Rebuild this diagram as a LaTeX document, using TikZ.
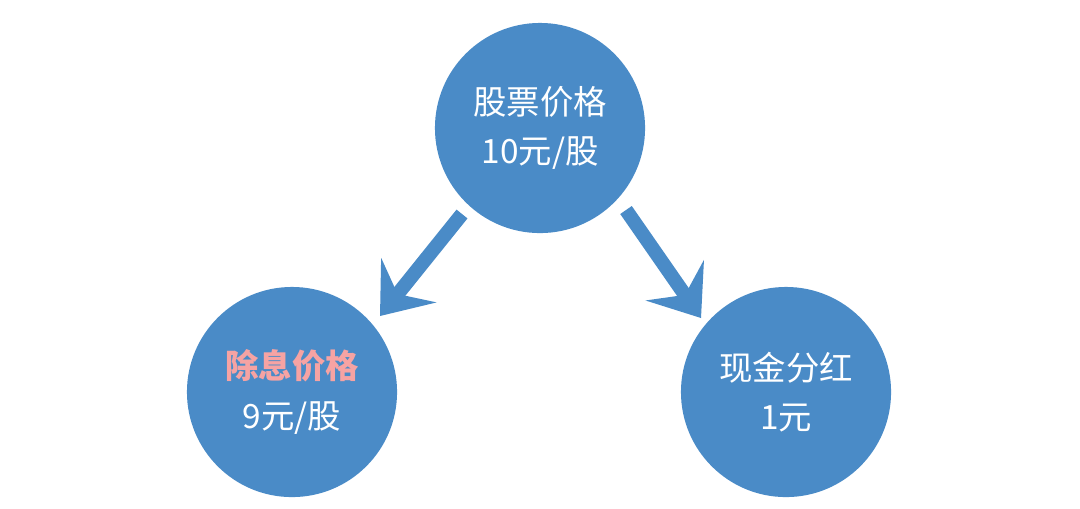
\documentclass[tikz,border=0pt]{standalone}
\usepackage{fontspec}
\newfontfamily\cjk{Noto Sans CJK SC}
\usetikzlibrary{arrows.meta}
\definecolor{ballblue}{HTML}{4A8BC7}
\definecolor{pinktext}{HTML}{F6A3A3}
\tikzset{
    ball/.style={circle, fill=ballblue, minimum size=2.1cm, inner sep=0pt,
        text=white, align=center, font=\cjk\fontsize{9.5}{14}\selectfont},
    flow/.style={ballblue, line width=4pt,
        -{Stealth[length=13pt, width=20pt, inset=5pt]}}
}
\begin{document}
\begin{tikzpicture}[x=0.01cm, y=-0.01cm]
    \useasboundingbox (0,0) rectangle (1080,508);
    \node[ball] (price) at (540,128) {股票价格\\10元/股};
    \node[ball] (exdiv) at (292,392) {\textcolor{pinktext}{\bfseries 除息价格}\\9元/股};
    \node[ball] (cash) at (786,392) {现金分红\\1元};
    \coordinate (ls) at (462,214);
    \coordinate (lt) at (380,316);
    \coordinate (rs) at (626,210);
    \coordinate (rt) at (701,318);
    \draw[flow] (ls) -- (lt);
    \draw[flow] (rs) -- (rt);
\end{tikzpicture}
\end{document}
